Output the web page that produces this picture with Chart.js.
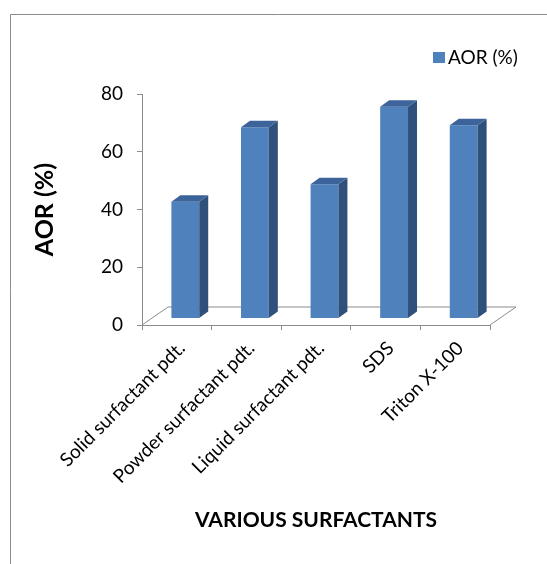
<!DOCTYPE html>
<html>
<head>
<meta charset="utf-8">
<script src="https://cdn.jsdelivr.net/npm/chart.js@4.4.1/dist/chart.umd.min.js"></script>
<style>
  html, body { margin: 0; padding: 0; background: #fff; }
  #wrap { position: relative; width: 547px; height: 564px; }
</style>
</head>
<body>
<div id="wrap"><canvas id="aorChart"></canvas></div>
<script>
const categories = ['Solid surfactant pdt.', 'Powder surfactant pdt.', 'Liquid surfactant pdt.', 'SDS', 'Triton X-100'];
const aorValues = [40.4, 66.2, 46.5, 73.3, 66.9];
const yTicks = [0, 20, 40, 60, 80];
const seriesName = 'AOR (%)';

const FONT = 'Lato';
const axisGray = '#8c8c8c';
const frontBlue = '#4f81bd';
const sideBlue = '#30507c';
const topBlue = '#3c639a';

// 3d look: bars stand a bit behind the front edge of the floor
const shift = { dx: 8.5, dy: -6.5 };
const barDepth = { dx: 9, dy: -6.5 };
const floorDepth = { dx: 26, dy: -18 };

// outer frame (only left and top edges show in the picture)
const framePlugin = {
    id: 'frame',
    beforeDraw(chart) {
        const ctx = chart.ctx;
        ctx.save();
        ctx.strokeStyle = axisGray;
        ctx.lineWidth = 1;
        ctx.beginPath();
        ctx.moveTo(10.5, chart.height);
        ctx.lineTo(10.5, 14.5);
        ctx.lineTo(chart.width, 14.5);
        ctx.stroke();
        ctx.restore();
    }
};

const bar3dPlugin = {
    id: 'bar3d',
    beforeDatasetsDraw(chart) {
        const ctx = chart.ctx;
        const a = chart.chartArea;
        // floor outline behind the bars
        ctx.save();
        ctx.strokeStyle = axisGray;
        ctx.lineWidth = 1;
        ctx.beginPath();
        ctx.moveTo(a.left, a.bottom);
        ctx.lineTo(a.left + floorDepth.dx, a.bottom + floorDepth.dy);
        ctx.lineTo(a.right + floorDepth.dx, a.bottom + floorDepth.dy);
        ctx.lineTo(a.right, a.bottom);
        ctx.stroke();
        ctx.restore();

        ctx.save();
        ctx.translate(shift.dx, shift.dy);
    },
    afterDatasetsDraw(chart) {
        const ctx = chart.ctx;
        const meta = chart.getDatasetMeta(0);
        meta.data.forEach(bar => {
            const { x, y, base, width } = bar.getProps(['x', 'y', 'base', 'width'], true);
            const l = x - width / 2;
            const r = x + width / 2;
            // side face
            ctx.fillStyle = sideBlue;
            ctx.beginPath();
            ctx.moveTo(r, y);
            ctx.lineTo(r + barDepth.dx, y + barDepth.dy);
            ctx.lineTo(r + barDepth.dx, base + barDepth.dy);
            ctx.lineTo(r, base);
            ctx.closePath();
            ctx.fill();
            // top face
            ctx.fillStyle = topBlue;
            ctx.beginPath();
            ctx.moveTo(l, y);
            ctx.lineTo(l + barDepth.dx, y + barDepth.dy);
            ctx.lineTo(r + barDepth.dx, y + barDepth.dy);
            ctx.lineTo(r, y);
            ctx.closePath();
            ctx.fill();
        });
        ctx.restore();
    }
};

// legend box in the upper right
const legendPlugin = {
    id: 'cornerLegend',
    afterDraw(chart) {
        const ctx = chart.ctx;
        const ds = chart.data.datasets[0];
        ctx.save();
        ctx.fillStyle = ds.backgroundColor;
        ctx.fillRect(433, 52, 12, 11);
        ctx.fillStyle = '#000';
        ctx.font = `19px ${FONT}`;
        ctx.textBaseline = 'middle';
        ctx.textAlign = 'left';
        ctx.fillText(ds.label, 448, 58);
        ctx.restore();
    }
};

new Chart(document.getElementById('aorChart'), {
    type: 'bar',
    data: {
        labels: categories,
        datasets: [{
            label: seriesName,
            data: aorValues,
            backgroundColor: frontBlue,
            borderWidth: 0,
            categoryPercentage: 1,
            barPercentage: 0.4,
            clip: false
        }]
    },
    options: {
        responsive: true,
        maintainAspectRatio: false,
        animation: false,
        events: [],
        layout: { padding: { left: 18, top: 94, right: 57, bottom: 20 } },
        plugins: {
            legend: { display: false },
            tooltip: { enabled: false }
        },
        scales: {
            x: {
                grid: { drawOnChartArea: false, offset: true, tickLength: 5, color: axisGray },
                border: { color: axisGray },
                ticks: {
                    autoSkip: false, minRotation: 45, maxRotation: 45, padding: 7, labelOffset: 5,
                    color: '#000', font: { family: FONT, size: 19 }
                },
                title: {
                    display: true, text: 'VARIOUS SURFACTANTS', color: '#000',
                    font: { family: FONT, size: 21, weight: 'bold' },
                    padding: { top: 0, bottom: 11 }
                },
                afterFit(scale) { scale.height = 564 - 325 - 20; }
            },
            y: {
                min: 0,
                max: 80,
                afterBuildTicks(scale) { scale.ticks = yTicks.map(v => ({ value: v })); },
                grid: { drawOnChartArea: false, tickLength: 5, color: axisGray },
                border: { color: axisGray },
                ticks: { padding: 14, color: '#000', font: { family: FONT, size: 19 } },
                title: {
                    display: true, text: 'AOR (%)', color: '#000',
                    font: { family: FONT, size: 25, weight: 'bold' },
                    padding: { top: 12, bottom: 0 }
                },
                afterFit(scale) { scale.width = 124; }
            }
        }
    },
    plugins: [framePlugin, bar3dPlugin, legendPlugin]
});
</script>
</body>
</html>
